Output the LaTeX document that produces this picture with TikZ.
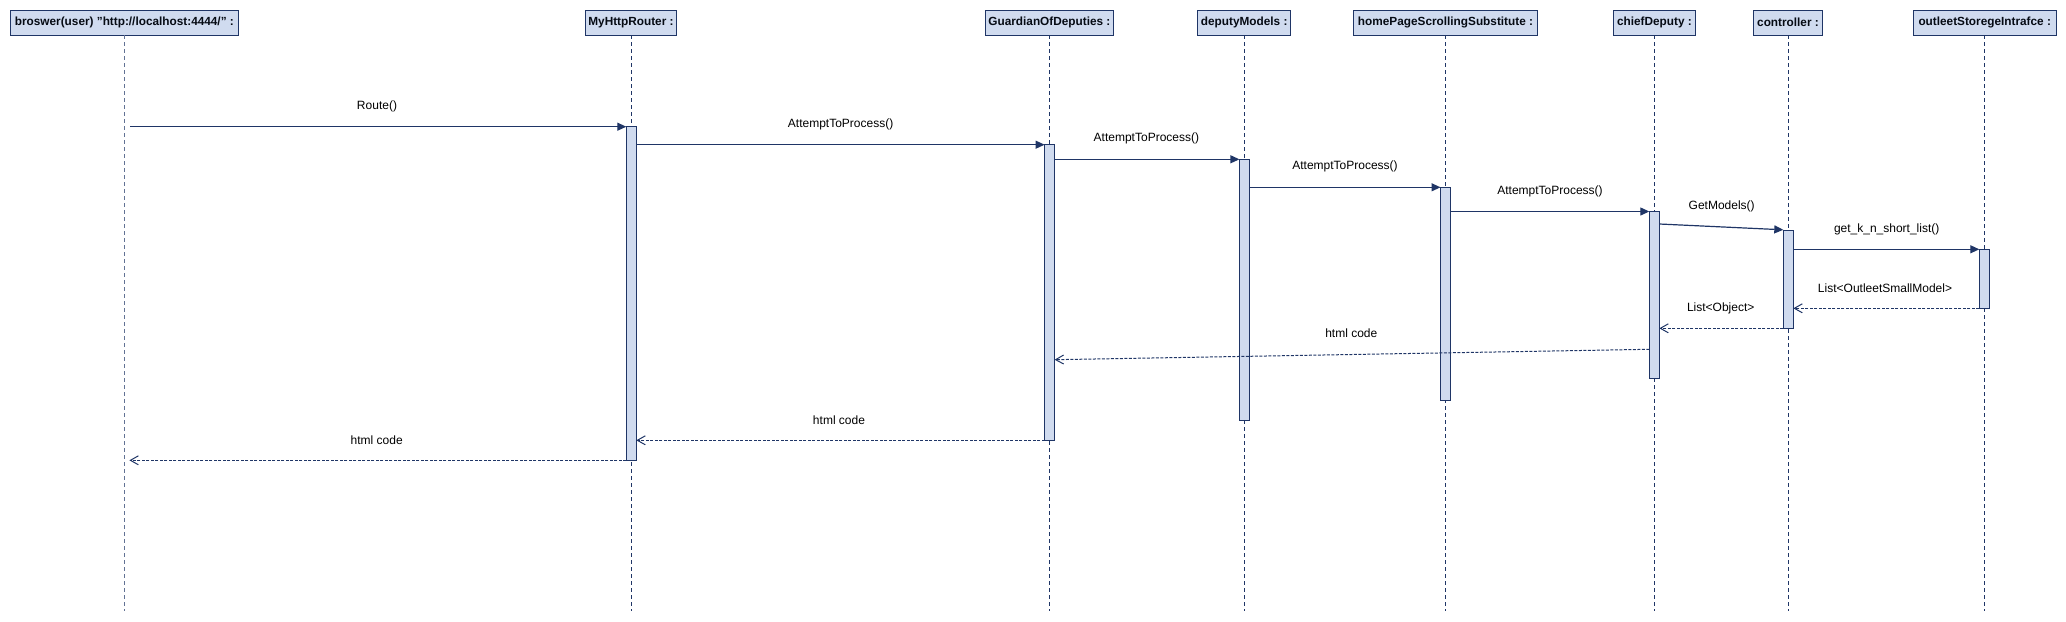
\documentclass[tikz,border=0pt]{standalone}
\usepackage{fontspec}
\setmainfont{Liberation Sans}
\usetikzlibrary{arrows.meta,calc}
\definecolor{navy}{HTML}{1F3566}
\definecolor{boxfill}{HTML}{D0DBEF}
\begin{document}
\begin{tikzpicture}[x=1pt,y=-1pt,
  head/.style={draw=navy, fill=boxfill, line width=1.3pt, minimum height=25pt, inner sep=0pt, outer sep=0pt, font=\fontsize{11.8}{13}\selectfont\bfseries, text=black!80!navy},
  act/.style={draw=navy, fill=boxfill, line width=1.1pt, minimum width=10pt, inner sep=0pt, outer sep=0pt, anchor=north},
  life/.style={draw=navy, line width=0.8pt, dash pattern=on 4pt off 3pt},
  life1/.style={draw=navy!70, line width=0.7pt, dash pattern=on 4pt off 3pt},
  call/.style={draw=navy, line width=1.2pt, -{Triangle[length=9pt,width=8pt]}},
  ret/.style={draw=navy, line width=1pt, dash pattern=on 3pt off 1.5pt, -{Straight Barb[length=8pt,width=9pt,line width=1pt]}},
  lbl/.style={font=\fontsize{12}{14}\selectfont, inner sep=0pt}
]
\useasboundingbox (0,0) rectangle (2066,621);
% heads
\node[head, minimum width=228pt]   (h1) at (124.4,22.65) {broswer(user) "http://localhost:4444/" :};
\node[head, minimum width=90.6pt]  (h2) at (631,22.65) {MyHttpRouter :};
\node[head, minimum width=128pt]   (h3) at (1049.4,22.65) {GuardianOfDeputies :};
\node[head, minimum width=92.8pt]  (h4) at (1244.2,22.65) {deputyModels :};
\node[head, minimum width=183.8pt] (h5) at (1445.5,22.65) {homePageScrollingSubstitute :};
\node[head, minimum width=82.2pt]  (h6) at (1654.4,22.65) {chiefDeputy :};
\node[head, minimum width=68.8pt]  (h7) at (1788,22.65) {controller :};
\node[head, minimum width=143pt]   (h8) at (1984.7,22.65) {outleetStoregeIntrafce :};
% lifelines
\draw[life1] (h1.south) -- (h1.south |- 0,611);
\foreach \i in {2,...,8}{\draw[life] (h\i.south) -- (h\i.south |- 0,611);}
% activations
\node[act, minimum height=333.6pt] (a2) at (631.3,126.7) {};
\node[act, minimum height=295.6pt] (a3) at (1049.6,144.7) {};
\node[act, minimum height=261pt]   (a4) at (1244.4,159.3) {};
\node[act, minimum height=213pt]   (a5) at (1445.5,187.3) {};
\node[act, minimum height=167pt]   (a6) at (1654.3,211.5) {};
\node[act, minimum height=98pt]    (a7) at (1788.3,230.3) {};
\node[act, minimum height=59pt]    (a8) at (1984.3,249.3) {};
% calls
\coordinate (s1) at (130,126.7);
\draw[call] (s1) -- (a2.north west);
\draw[call] (a2.east |- a3.north) -- (a3.north west);
\draw[call] (a3.east |- a4.north) -- (a4.north west);
\draw[call] (a4.east |- a5.north) -- (a5.north west);
\draw[call] (a5.east |- a6.north) -- (a6.north west);
\draw[call] ($(a6.north east)+(0,12.5)$) -- ($(a7.north west)+(0,-0.5)$);
\draw[call] (a7.east |- a8.north) -- (a8.north west);
% returns
\draw[ret] (a8.south west) -- (a7.east |- a8.south);
\draw[ret] (a7.south west) -- (a6.east |- a7.south);
\draw[ret] ($(a6.north west)+(0,137.8)$) -- ($(a3.north east)+(0,215)$);
\draw[ret] (a3.south west) -- (a2.east |- a3.south);
\draw[ret] (a2.south west) -- ($(h1.south |- a2.south)+(5,0)$);
% labels
\node[lbl] (m1)  at (377,106)      {Route()};
\node[lbl] (m2)  at (840.6,124)    {AttemptToProcess()};
\node[lbl] (m3)  at (1146.4,138)   {AttemptToProcess()};
\node[lbl] (m4)  at (1345,166.7)   {AttemptToProcess()};
\node[lbl] (m5)  at (1550,191)     {AttemptToProcess()};
\node[lbl] (m6)  at (1721.7,206.7) {GetModels()};
\node[lbl] (m7)  at (1886.7,229)   {get\_k\_n\_short\_list()};
\node[lbl] (m8)  at (1885,288.3)   {List<OutleetSmallModel>};
\node[lbl] (m9)  at (1720.7,308.3) {List<Object>};
\node[lbl] (m10) at (1351.3,333.7) {html code};
\node[lbl] (m11) at (839,420.7)    {html code};
\node[lbl] (m12) at (376.7,440.7)  {html code};
\end{tikzpicture}
\end{document}
